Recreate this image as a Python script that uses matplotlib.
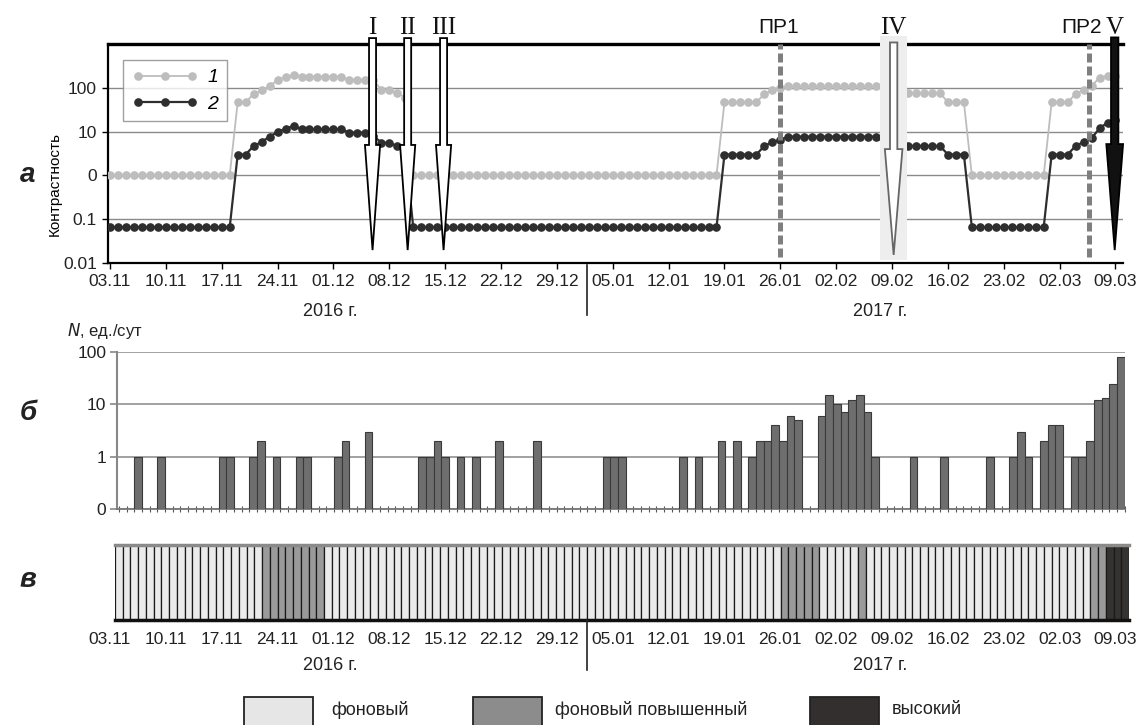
import matplotlib
matplotlib.use('Agg')
import matplotlib.pyplot as plt
import numpy as np
from matplotlib.patches import Polygon, Rectangle
from matplotlib.lines import Line2D
from matplotlib.transforms import blended_transform_factory

plt.rcParams['font.family'] = ['Liberation Sans', 'DejaVu Sans']

# --- panel a: contrast by day (day 0 = 03.11.2016)
contrast_1 = [1, 1, 1, 1, 1, 1, 1, 1, 1, 1, 1, 1, 1, 1, 1, 1,
              47, 47, 72, 87, 110, 150, 180, 195, 180, 180, 180, 180, 180, 180,
              150, 150, 150, 150, 90, 87, 76, 60,
              1, 1, 1, 1, 1, 1, 1, 1, 1, 1, 1, 1, 1, 1, 1, 1, 1, 1, 1, 1,
              1, 1, 1, 1, 1, 1, 1, 1, 1, 1, 1, 1, 1, 1, 1, 1, 1, 1, 1,
              47, 47, 47, 47, 47, 72, 87, 100,
              110, 110, 110, 110, 110, 110, 110, 110, 110, 110, 110, 110,
              90, 90, 90, 76, 76, 76, 76, 76, 47, 47, 47,
              1, 1, 1, 1, 1, 1, 1, 1, 1, 1,
              47, 47, 47, 72, 90, 110, 170, 185, 190]
contrast_2 = [0.065, 0.065, 0.065, 0.065, 0.065, 0.065, 0.065, 0.065,
              0.065, 0.065, 0.065, 0.065, 0.065, 0.065, 0.065, 0.065,
              3.0, 3.0, 4.7, 5.8, 7.7, 9.8, 11.7, 13.4, 11.3, 11.3, 11.3, 11.3, 11.3, 11.3,
              9.5, 9.5, 9.5, 8.0, 5.6, 5.5, 4.7, 4.0,
              0.065, 0.065, 0.065, 0.065, 0.065, 0.065, 0.065, 0.065, 0.065, 0.065,
              0.065, 0.065, 0.065, 0.065, 0.065, 0.065, 0.065, 0.065, 0.065, 0.065,
              0.065, 0.065, 0.065, 0.065, 0.065, 0.065, 0.065, 0.065, 0.065, 0.065,
              0.065, 0.065, 0.065, 0.065, 0.065, 0.065, 0.065, 0.065, 0.065,
              3.0, 3.0, 3.0, 3.0, 3.0, 4.7, 5.8, 6.5,
              7.7, 7.7, 7.7, 7.7, 7.7, 7.7, 7.7, 7.7, 7.7, 7.7, 7.7, 7.7,
              5.6, 5.6, 5.6, 4.7, 4.7, 4.7, 4.7, 4.7, 3.0, 3.0, 3.0,
              0.065, 0.065, 0.065, 0.065, 0.065, 0.065, 0.065, 0.065, 0.065, 0.065,
              3.0, 3.0, 3.0, 4.7, 5.8, 7.0, 12.0, 16.0, 18.0]

date_labels = ['03.11', '10.11', '17.11', '24.11', '01.12', '08.12', '15.12', '22.12', '29.12',
               '05.01', '12.01', '19.01', '26.01', '02.02', '09.02', '16.02', '23.02', '02.03', '09.03']
a_yticks = [0.01, 0.1, 1, 10, 100]
a_yticklabels = ['0.01', '0.1', '0', '10', '100']

event_names = ['I', 'II', 'III', 'IV', 'V']
event_days = [32.9, 37.3, 41.8, 98.2, 125.9]
pr_names = ['ПР1', 'ПР2']
pr_days = [84.0, 122.7]

# --- panel b: number of events per day
bar_days = [2, 5, 13, 14, 17, 18, 20, 23, 24, 28, 29, 32, 39, 40, 41, 42, 44, 46, 49, 54, 63, 64, 65,
            73, 75, 78, 80, 82, 83, 84, 85, 86, 87, 88,
            91, 92, 93, 94, 95, 96, 97, 98,
            103, 107, 113, 116, 117, 118, 120, 121, 122, 124, 125, 126, 127, 128, 129, 130]
bar_counts = [1, 1, 1, 1, 1, 2, 1, 1, 1, 1, 2, 3, 1, 1, 2, 1, 1, 1, 2, 2, 1, 1, 1,
              1, 1, 2, 2, 1, 2, 2, 4, 2, 6, 5,
              6, 15, 10, 7, 12, 15, 7, 1,
              1, 1, 1, 1, 3, 1, 2, 4, 4, 1, 1, 2, 12, 13, 25, 80]
n_cells = 131

# --- panel v: hazard level per day
raised_days = [19, 20, 21, 22, 23, 24, 25, 26, 86, 87, 88, 89, 90, 96, 126, 127]
high_days = [128, 129, 130]
level_names = ['фоновый', 'фоновый повышенный', 'высокий']
level_colors = ['#ebebeb', '#9a9a9a', '#353232']
legend_colors = ['#e6e6e6', '#8c8c8c', '#332f2f']

W, H = 1137, 725
fig = plt.figure(figsize=(W / 100, H / 100), dpi=100)


def px_axes(left, top, right, bottom):
    return fig.add_axes([left / W, 1 - bottom / H, (right - left) / W, (bottom - top) / H])


FS = 12.5

# ================= panel a =================
ax = px_axes(108, 44, 1123, 263)
days = np.arange(len(contrast_1))
l1, = ax.plot(days, contrast_1, color='#bdbdbd', lw=1.3, marker='o', ms=5.2, mec='#bdbdbd', zorder=3)
l2, = ax.plot(days, contrast_2, color='#2e2e2e', lw=1.6, marker='o', ms=5.2, mec='#2e2e2e', zorder=4)
ax.set_yscale('log')
ax.set_ylim(0.01, 1000)
ax.set_xlim(-0.25, 126.94)
ax.set_yticks(a_yticks)
ax.set_yticklabels(a_yticklabels)
ax.minorticks_off()
ax.set_xticks(np.arange(0, 127, 7))
ax.set_xticklabels(date_labels)
ax.tick_params(axis='both', labelsize=FS, length=4, width=1, color='black', pad=4, labelcolor='#222')
ax.yaxis.grid(True, color='#8a8a8a', lw=1.0)
ax.set_axisbelow(True)
ax.spines['right'].set_visible(False)
ax.spines['top'].set_linewidth(2.4)
ax.spines['left'].set_linewidth(1.6)
ax.spines['bottom'].set_linewidth(1.6)
ax.set_ylabel('Контрастность', fontsize=11)
ax.yaxis.set_label_coords(-0.046, 0.36)

leg = ax.legend([l1, l2], ['1', '2'], loc='upper left', bbox_to_anchor=(0.0148, 0.927),
                numpoints=3, handlelength=3.4, prop={'style': 'italic', 'size': 14},
                frameon=True, fancybox=False, edgecolor='#888888', borderpad=0.45, labelspacing=0.45,
                handletextpad=0.5, borderaxespad=0)
leg.get_frame().set_linewidth(1.0)

tr = blended_transform_factory(ax.transData, ax.transAxes)

# band behind arrow IV
ax.add_patch(Rectangle((event_days[3] - 1.7, 0.015), 3.4, 1.02, transform=tr,
                       facecolor='#eeeeee', edgecolor='none', clip_on=False, zorder=5))

for name, d in zip(pr_names, pr_days):
    ax.axvline(d, ymin=0.027, ymax=1.0, color='#7f7f7f', lw=3.6, ls=(0, (1.8, 0.8)), zorder=6)

arrow_style = [
    # shaft half-width, head half-width, top, base, tip, face, edge
    (0.44, 0.95, 1.027, 0.539, 0.059, 'white', 'black'),
    (0.44, 0.95, 1.027, 0.539, 0.059, 'white', 'black'),
    (0.44, 0.95, 1.027, 0.539, 0.059, 'white', 'black'),
    (0.46, 1.10, 1.007, 0.520, 0.037, 'white', '#666666'),
    (0.46, 1.05, 1.030, 0.543, 0.059, '#111111', 'black'),
]
for d, (sw, hw, yt, yb, ytip, fc, ec) in zip(event_days, arrow_style):
    verts = [(d - sw, yt), (d + sw, yt), (d + sw, yb), (d + hw, yb), (d, ytip),
             (d - hw, yb), (d - sw, yb)]
    ax.add_patch(Polygon(verts, closed=True, transform=tr, facecolor=fc, edgecolor=ec,
                         lw=1.3, clip_on=False, zorder=7))

for name, d in zip(event_names, event_days):
    ax.text(d, 1.075, name, transform=tr, ha='center', va='center', fontsize=18,
            family='Liberation Serif', color='#111')
for name, d, off in zip(pr_names, pr_days, [-2, -8]):
    ax.annotate(name, (d, 1.075), xycoords=tr, xytext=(off * 0.72, 0), textcoords='offset points',
                ha='center', va='center', fontsize=15, color='#111')

# ================= panel b =================
bx = px_axes(117.3, 352, 1125, 509)
BASE = 0.1
bx.bar(bar_days, np.array(bar_counts) - BASE, bottom=BASE, width=1.0,
       color='#6e6e6e', edgecolor='#3a3a3a', lw=0.8, zorder=3)
bx.set_yscale('log')
bx.set_ylim(BASE, 100)
bx.set_xlim(-0.72, 130.56)
bx.set_yticks([0.1, 1, 10, 100])
bx.set_yticklabels(['0', '1', '10', '100'])
bx.minorticks_off()
bx.set_xticks([])
bx.set_xticks(np.arange(-0.5, n_cells, 1), minor=True)
bx.tick_params(axis='x', which='minor', length=4, direction='inout', color='#555555', width=0.8)
bx.tick_params(axis='y', labelsize=FS, length=5, color='#888888', width=1.2, pad=3, labelcolor='#222')
bx.yaxis.grid(True, color='#9a9a9a', lw=1.3)
bx.set_axisbelow(True)
for s in ['top', 'right']:
    bx.spines[s].set_visible(False)
bx.spines['left'].set_color('#888888')
bx.spines['left'].set_linewidth(1.5)
bx.spines['bottom'].set_color('#777777')
bx.spines['bottom'].set_linewidth(1.3)
fig.text(143 / W, 1 - 331 / H, '$N$, ед./сут', ha='right', va='center', fontsize=12, color='#222')

# ================= panel v =================
cx = px_axes(115, 545, 1129, 620)
cell_colors = [level_colors[0]] * n_cells
for d in raised_days:
    cell_colors[d] = level_colors[1]
for d in high_days:
    cell_colors[d] = level_colors[2]
cx.bar(np.arange(n_cells), 1, width=1.0, color=cell_colors, edgecolor='#1a1a1a', lw=0.9)
cx.set_xlim(-0.5, n_cells - 0.5)
cx.set_ylim(0, 1)
cx.set_xticks([])
cx.set_yticks([])
for s in ['left', 'right']:
    cx.spines[s].set_visible(False)
cx.spines['top'].set_color('#8a8a8a')
cx.spines['top'].set_linewidth(2.5)
cx.spines['bottom'].set_color('#111111')
cx.spines['bottom'].set_linewidth(2.5)

# date labels under panel v share the scale of panel a
dx = px_axes(108, 545, 1123, 620)
dx.patch.set_visible(False)
for s in dx.spines.values():
    s.set_visible(False)
dx.set_xlim(ax.get_xlim())
dx.set_yticks([])
dx.set_xticks(np.arange(0, 127, 7))
dx.set_xticklabels(date_labels)
dx.tick_params(axis='x', length=0, labelsize=FS, pad=9, labelcolor='#222')

# year labels and separators
for ytxt in [311, 665]:
    fig.text(330 / W, 1 - ytxt / H, '2016 г.', ha='center', va='center', fontsize=13, color='#222')
    fig.text(880 / W, 1 - ytxt / H, '2017 г.', ha='center', va='center', fontsize=13, color='#222')
for y0, y1 in [(265, 315), (620, 670)]:
    fig.add_artist(Line2D([587 / W, 587 / W], [1 - y0 / H, 1 - y1 / H], color='#222', lw=1.2))

# panel letters
for letter, yl in zip(['а', 'б', 'в'], [175, 413, 580]):
    fig.text(28 / W, 1 - yl / H, letter, ha='center', va='center', fontsize=20,
             fontweight='bold', style='italic', color='#222')

# level legend
for name, col, x0, xt in zip(level_names, legend_colors, [244, 473, 810], [331, 555, 892]):
    fig.add_artist(Rectangle((x0 / W, 1 - 740 / H), 69 / W, 43 / H, transform=fig.transFigure,
                             facecolor=col, edgecolor='#222', lw=1.3))
    fig.text(xt / W, 1 - 710 / H, name, ha='left', va='center', fontsize=13, color='#222')

fig.savefig('out.png', dpi=100)
